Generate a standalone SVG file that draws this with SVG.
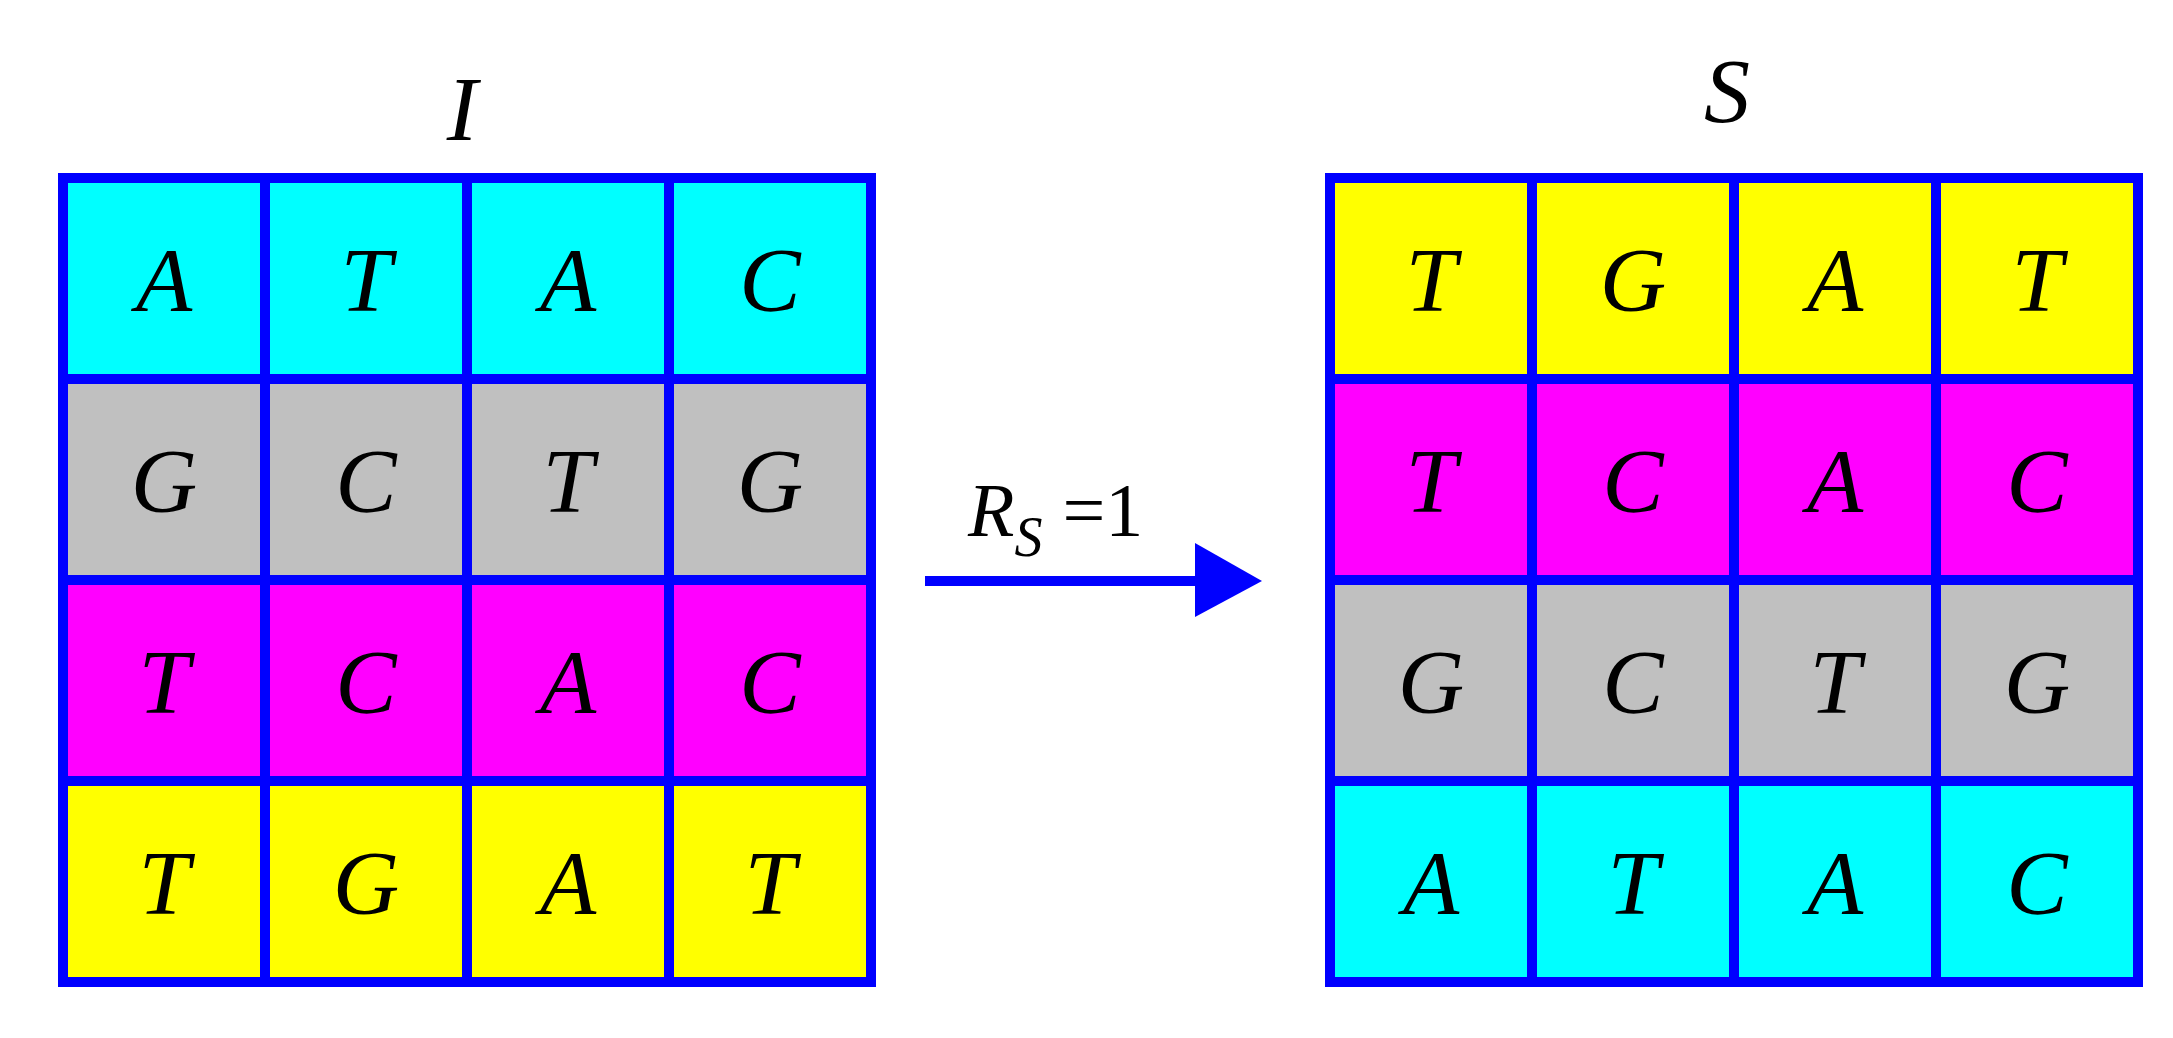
<svg xmlns="http://www.w3.org/2000/svg" width="2173" height="1038" viewBox="0 0 2173 1038">
<style>
.t{font-family:"Liberation Serif",serif;font-style:italic;font-size:92px;fill:#000;text-anchor:middle}
.g{stroke:#0000ff;stroke-width:10;fill:none}
.cy{fill:#00ffff}.gr{fill:#c0c0c0}.mg{fill:#ff00ff}.yl{fill:#ffff00}
</style>
<rect width="2173" height="1038" fill="#fff"/>
<g id="gridI">
<rect class="cy" x="63" y="178" width="808" height="201"/>
<rect class="gr" x="63" y="379" width="808" height="201"/>
<rect class="mg" x="63" y="580" width="808" height="201"/>
<rect class="yl" x="63" y="781" width="808" height="201"/>
<path class="g" d="M63 178H871V982H63Z M265 178V982 M467 178V982 M669 178V982 M63 379H871 M63 580H871 M63 781H871"/>
<text class="t" x="164" y="311">A</text><text class="t" x="366" y="311">T</text><text class="t" x="568" y="311">A</text><text class="t" x="770" y="311">C</text>
<text class="t" x="164" y="512">G</text><text class="t" x="366" y="512">C</text><text class="t" x="568" y="512">T</text><text class="t" x="770" y="512">G</text>
<text class="t" x="164" y="713">T</text><text class="t" x="366" y="713">C</text><text class="t" x="568" y="713">A</text><text class="t" x="770" y="713">C</text>
<text class="t" x="164" y="914">T</text><text class="t" x="366" y="914">G</text><text class="t" x="568" y="914">A</text><text class="t" x="770" y="914">T</text>
<text class="t" x="462" y="140">I</text>
</g>
<g id="gridS">
<rect class="yl" x="1330" y="178" width="808" height="201"/>
<rect class="mg" x="1330" y="379" width="808" height="201"/>
<rect class="gr" x="1330" y="580" width="808" height="201"/>
<rect class="cy" x="1330" y="781" width="808" height="201"/>
<path class="g" d="M1330 178H2138V982H1330Z M1532 178V982 M1734 178V982 M1936 178V982 M1330 379H2138 M1330 580H2138 M1330 781H2138"/>
<text class="t" x="1431" y="311">T</text><text class="t" x="1633" y="311">G</text><text class="t" x="1835" y="311">A</text><text class="t" x="2037" y="311">T</text>
<text class="t" x="1431" y="512">T</text><text class="t" x="1633" y="512">C</text><text class="t" x="1835" y="512">A</text><text class="t" x="2037" y="512">C</text>
<text class="t" x="1431" y="713">G</text><text class="t" x="1633" y="713">C</text><text class="t" x="1835" y="713">T</text><text class="t" x="2037" y="713">G</text>
<text class="t" x="1431" y="914">A</text><text class="t" x="1633" y="914">T</text><text class="t" x="1835" y="914">A</text><text class="t" x="2037" y="914">C</text>
<text class="t" x="1727" y="122">S</text>
</g>
<g id="connectors">
<line x1="925" y1="581" x2="1205" y2="581" stroke="#0000ff" stroke-width="10"/>
<polygon points="1195,543 1262,581 1195,617" fill="#0000ff"/>
<text font-family="Liberation Serif,serif" font-size="76" x="968" y="536"><tspan font-style="italic">R</tspan><tspan font-style="italic" font-size="56" dy="20">S</tspan><tspan dy="-20" dx="20">=1</tspan></text>
</g>
</svg>
